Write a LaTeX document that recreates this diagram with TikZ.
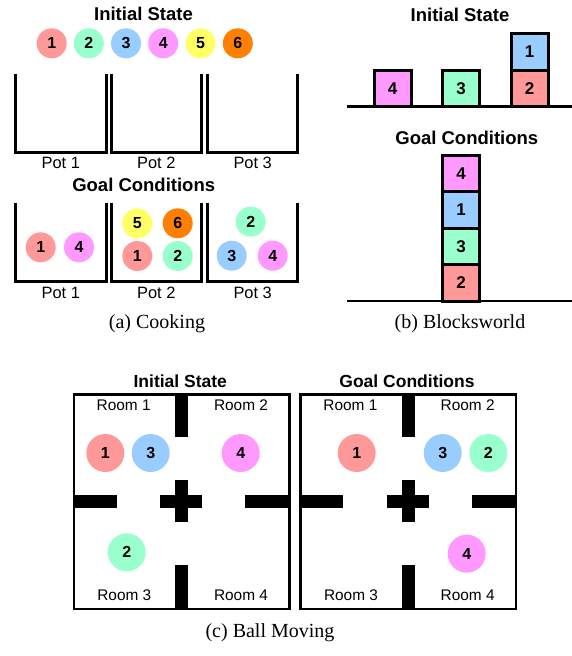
\documentclass[tikz,border=0pt]{standalone}
\usepackage{fontspec}
\setmainfont{Liberation Serif}
\setsansfont{Liberation Sans}
\definecolor{cred}{HTML}{FF9999}
\definecolor{cgreen}{HTML}{99FFCC}
\definecolor{cblue}{HTML}{99CCFF}
\definecolor{cmag}{HTML}{FF99FF}
\definecolor{cyel}{HTML}{FFFF66}
\definecolor{corange}{HTML}{FF8000}
\begin{document}
\begin{tikzpicture}[x=1pt,y=-1pt,
  ball/.style={circle,minimum size=30pt,inner sep=0pt,font=\sffamily\bfseries\fontsize{16}{16}\selectfont},
  bigball/.style={ball,minimum size=38pt},
  c1/.style={fill=cred},c2/.style={fill=cgreen},c3/.style={fill=cblue},
  c4/.style={fill=cmag},c5/.style={fill=cyel},c6/.style={fill=corange},
  title/.style={font=\sffamily\bfseries\fontsize{18.5}{18.5}\selectfont},
  smalltitle/.style={font=\sffamily\bfseries\fontsize{17.5}{17.5}\selectfont},
  potlabel/.style={font=\sffamily\fontsize{16.4}{16.4}\selectfont},
  roomlabel/.style={font=\sffamily\fontsize{15.4}{15.4}\selectfont},
  caption/.style={font=\fontsize{20}{20}\selectfont},
  pot/.style={line width=3pt,line join=miter},
  block/.style={draw,line width=3pt,minimum width=37pt,minimum height=36.4pt,inner sep=0pt,font=\sffamily\bfseries\fontsize{17}{17}\selectfont},
  ground/.style={line width=2.5pt},
  wall/.style={fill=black,draw=none},
  frame/.style={line width=2.5pt}
]
\useasboundingbox (0,0) rectangle (572,656);

% ---------------- (a) Cooking ----------------
\node[title] (ci) at (143.5,14) {Initial State};
\node[ball,c1] (i1) at (51.7,43.3) {1};
\node[ball,c2] (i2) at (88.8,43.3) {2};
\node[ball,c3] (i3) at (126,43.3) {3};
\node[ball,c4] (i4) at (163.2,43.3) {4};
\node[ball,c5] (i5) at (200.5,43.3) {5};
\node[ball,c6] (i6) at (237.8,43.3) {6};

\draw[pot] (15.7,74) -- (15.7,152.3) -- (106,152.3) -- (106,74);
\draw[pot] (111,74) -- (111,152.3) -- (201.7,152.3) -- (201.7,74);
\draw[pot] (207.7,74) -- (207.7,152.3) -- (297.7,152.3) -- (297.7,74);
\node[potlabel] (p1) at (60.8,162.5) {Pot 1};
\node[potlabel] (p2) at (156.3,162.5) {Pot 2};
\node[potlabel] (p3) at (252.7,162.5) {Pot 3};

\node[title] (cg) at (143.7,185) {Goal Conditions};
\draw[pot] (15.7,203.3) -- (15.7,281.7) -- (106,281.7) -- (106,203.3);
\draw[pot] (111,203.3) -- (111,281.7) -- (201.7,281.7) -- (201.7,203.3);
\draw[pot] (207.7,203.3) -- (207.7,281.7) -- (297.7,281.7) -- (297.7,203.3);
\node[potlabel] (q1) at (60.8,292.5) {Pot 1};
\node[potlabel] (q2) at (156.3,292.5) {Pot 2};
\node[potlabel] (q3) at (252.7,292.5) {Pot 3};

\node[ball,c1] (g11) at (40.7,247.3) {1};
\node[ball,c4] (g14) at (79,247.3) {4};
\node[ball,c5] (g25) at (137.3,223.3) {5};
\node[ball,c6] (g26) at (177.7,223.3) {6};
\node[ball,c1] (g21) at (137.3,256) {1};
\node[ball,c2] (g22) at (177.7,256) {2};
\node[ball,c2] (g32) at (250.7,221.7) {2};
\node[ball,c3] (g33) at (231.7,255.7) {3};
\node[ball,c4] (g34) at (272.7,255.7) {4};

\node[caption] (capa) at (157,324) {(a) Cooking};

% ---------------- (b) Blocksworld ----------------
\node[title] (bi) at (460,15) {Initial State};
\draw[ground] (347.3,106.7) -- (572,106.7);
\node[block,fill=cmag] (b4) at (392.5,88.5) {4};
\node[block,fill=cgreen] (b3) at (461,88.5) {3};
\node[block,fill=cred] (b2) at (529.7,88.5) {2};
\node[block,fill=cblue] (b1) at (529.7,52.1) {1};

\node[title] (bg) at (466.8,138.3) {Goal Conditions};
\draw[ground] (347.3,301) -- (572,301);
\node[block,fill=cred] (s2) at (461,282.8) {2};
\node[block,fill=cgreen] (s3) at (461,246.4) {3};
\node[block,fill=cblue] (s1) at (461,210) {1};
\node[block,fill=cmag] (s4) at (461,173.6) {4};

\node[caption] (capb) at (460,324) {(b) Blocksworld};

% ---------------- (c) Ball Moving ----------------
\foreach \dx/\t in {0/Initial State,226.7/Goal Conditions}{
  \begin{scope}[xshift=\dx pt]
    \fill[wall] (175,394.3) rectangle (188.3,436.7);
    \fill[wall] (175,565) rectangle (188.3,609);
    \fill[wall] (74,495) rectangle (116.7,508.3);
    \fill[wall] (245,495) rectangle (289.3,508.3);
    \fill[wall] (160,495) rectangle (202.3,508.3);
    \fill[wall] (175,480) rectangle (188.3,522.3);
    \draw[frame] (74,394.3) rectangle (289.3,609);
    \node[roomlabel] at (123.7,405) {Room 1};
    \node[roomlabel] at (241,405) {Room 2};
    \node[roomlabel] at (124.3,595) {Room 3};
    \node[roomlabel] at (241,595) {Room 4};
    \node[smalltitle] at (180.3,381.7) {\t};
  \end{scope}
}
\node[bigball,c1] (m1) at (105.3,453) {1};
\node[bigball,c3] (m3) at (150.7,453) {3};
\node[bigball,c4] (m4) at (240.7,453) {4};
\node[bigball,c2] (m2) at (126.7,552.3) {2};

\node[bigball,c1] (n1) at (356.7,453) {1};
\node[bigball,c3] (n3) at (442.7,453) {3};
\node[bigball,c2] (n2) at (488.3,453) {2};
\node[bigball,c4] (n4) at (466.7,553.7) {4};

\node[caption] (capc) at (270,633) {(c) Ball Moving};
\end{tikzpicture}
\end{document}
